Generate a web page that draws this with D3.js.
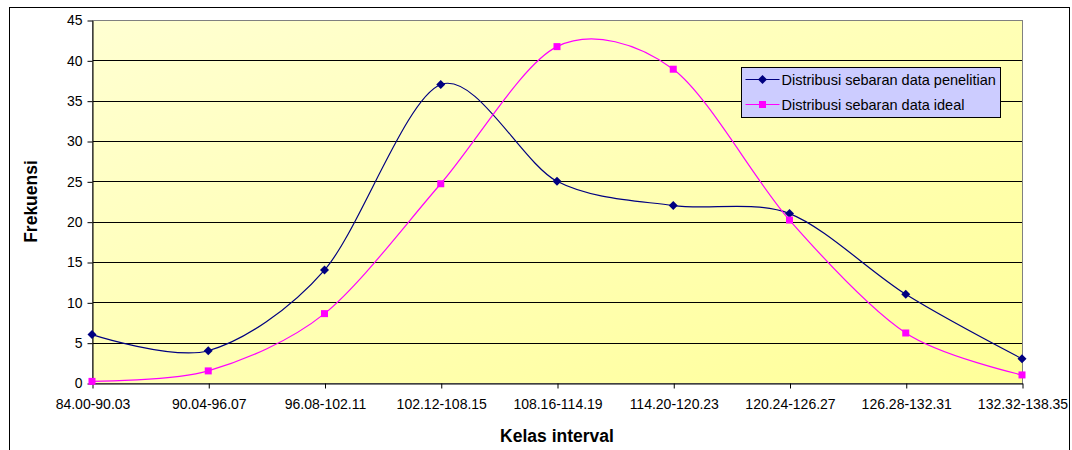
<!DOCTYPE html>
<html>
<head>
<meta charset="utf-8">
<script src="https://cdn.jsdelivr.net/npm/d3@7"></script>
<style>
  body { margin: 0; background: #fff; }
  text { font-family: "Liberation Sans", Arial, sans-serif; }
</style>
</head>
<body>
<svg id="chart" width="1072" height="450"></svg>
<script>
const categories = ["84.00-90.03", "90.04-96.07", "96.08-102.11", "102.12-108.15",
                    "108.16-114.19", "114.20-120.23", "120.24-126.27", "126.28-132.31", "132.32-138.35"];
const penelitian = [6, 4, 14, 37, 25, 22, 21, 11, 3];
const ideal      = [0.2, 1.5, 8.6, 24.7, 41.7, 38.9, 20.2, 6.2, 1.0];
const yTicks     = d3.range(0, 46, 5);
const seriesNames = ["Distribusi sebaran data penelitian", "Distribusi sebaran data ideal"];

const M = { left: 92, top: 20, right: 1022, bottom: 383 };
const svg = d3.select("#chart");

// outer chart border
svg.append("rect")
   .attr("x", 9.5).attr("y", 7.5).attr("width", 1060).attr("height", 460)
   .attr("fill", "#fff").attr("stroke", "#000");

const defs = svg.append("defs");
const grad = defs.append("linearGradient").attr("id", "bg")
  .attr("x1", "0%").attr("y1", "0%").attr("x2", "100%").attr("y2", "100%");
grad.append("stop").attr("offset", "0%").attr("stop-color", "#FFFFD2");
grad.append("stop").attr("offset", "100%").attr("stop-color", "#FFFF99");

const x = d3.scalePoint().domain(categories).range([M.left, M.right]);
const y = d3.scaleLinear().domain([0, 45]).range([M.bottom, M.top]);

svg.append("rect")
   .attr("x", M.left).attr("y", M.top)
   .attr("width", M.right - M.left).attr("height", M.bottom - M.top)
   .attr("fill", "url(#bg)");

// gridlines
svg.append("g")
   .selectAll("line")
   .data(yTicks.filter(d => d > 0 && d < 45))
   .enter().append("line")
     .attr("x1", M.left).attr("x2", M.right)
     .attr("y1", d => Math.round(y(d)) + 0.5).attr("y2", d => Math.round(y(d)) + 0.5)
     .attr("stroke", "#000");

// plot border
svg.append("rect")
   .attr("x", M.left + 0.5).attr("y", M.top + 0.5)
   .attr("width", M.right - M.left).attr("height", M.bottom - M.top)
   .attr("fill", "none").attr("stroke", "#808080");

// axes
const yAxis = svg.append("g")
   .attr("transform", `translate(${M.left + 0.5},0.5)`)
   .call(d3.axisLeft(y).tickValues(yTicks).tickSize(5).tickSizeOuter(0).tickPadding(5));
yAxis.select(".domain").attr("stroke", "#000");
yAxis.selectAll("text").attr("font-size", 14).attr("fill", "#000")
     .attr("font-family", "Liberation Sans, Arial, sans-serif");

const xAxis = svg.append("g")
   .attr("transform", `translate(0.5,${M.bottom + 0.5})`)
   .call(d3.axisBottom(x).tickSize(5).tickSizeOuter(0).tickPadding(11));
xAxis.select(".domain").attr("stroke", "#000");
xAxis.selectAll("text").attr("font-size", 14).attr("fill", "#000")
     .attr("font-family", "Liberation Sans, Arial, sans-serif");

// axis titles
svg.append("text")
   .attr("transform", `translate(37,${(M.top + M.bottom) / 2}) rotate(-90)`)
   .attr("text-anchor", "middle")
   .attr("font-size", 17.5).attr("font-weight", "bold")
   .text("Frekuensi");

svg.append("text")
   .attr("x", (M.left + M.right) / 2).attr("y", 442)
   .attr("text-anchor", "middle")
   .attr("font-size", 17.5).attr("font-weight", "bold")
   .text("Kelas interval");

// lines
const line = d3.line()
  .x((d, i) => x(categories[i]))
  .y(d => y(d))
  .curve(d3.curveCardinal.tension(0.1));

const navy = "#000080", pink = "#FF00FF";

svg.append("path").attr("d", line(penelitian))
   .attr("fill", "none").attr("stroke", navy).attr("stroke-width", 1.2);
svg.append("path").attr("d", line(ideal))
   .attr("fill", "none").attr("stroke", pink).attr("stroke-width", 1.2);

// square diamond marker
const diamond = "M0,-4.5L4.5,0L0,4.5L-4.5,0Z";

svg.append("g").selectAll("path")
   .data(penelitian).enter().append("path")
     .attr("d", diamond)
     .attr("transform", (d, i) => `translate(${x(categories[i])},${y(d)})`)
     .attr("fill", navy);

svg.append("g").selectAll("rect")
   .data(ideal).enter().append("rect")
     .attr("x", (d, i) => x(categories[i]) - 3.5)
     .attr("y", d => y(d) - 3.5)
     .attr("width", 7).attr("height", 7)
     .attr("fill", pink);

// legend
const lg = svg.append("g").attr("transform", "translate(741.5,67.5)");
lg.append("rect").attr("width", 259).attr("height", 50)
  .attr("fill", "#CCCCFF").attr("stroke", "#000");

seriesNames.forEach((name, i) => {
  const cy = 12 + i * 25;
  const col = i === 0 ? navy : pink;
  lg.append("line").attr("x1", 4).attr("x2", 38).attr("y1", cy).attr("y2", cy)
    .attr("stroke", col).attr("stroke-width", 1.2);
  if (i === 0) {
    lg.append("path").attr("d", diamond).attr("transform", `translate(21,${cy})`).attr("fill", col);
  } else {
    lg.append("rect").attr("x", 17.5).attr("y", cy - 3.5).attr("width", 7).attr("height", 7).attr("fill", col);
  }
  lg.append("text").attr("x", 40).attr("y", cy + 5)
    .attr("font-size", 14.5).text(name);
});
</script>
</body>
</html>
